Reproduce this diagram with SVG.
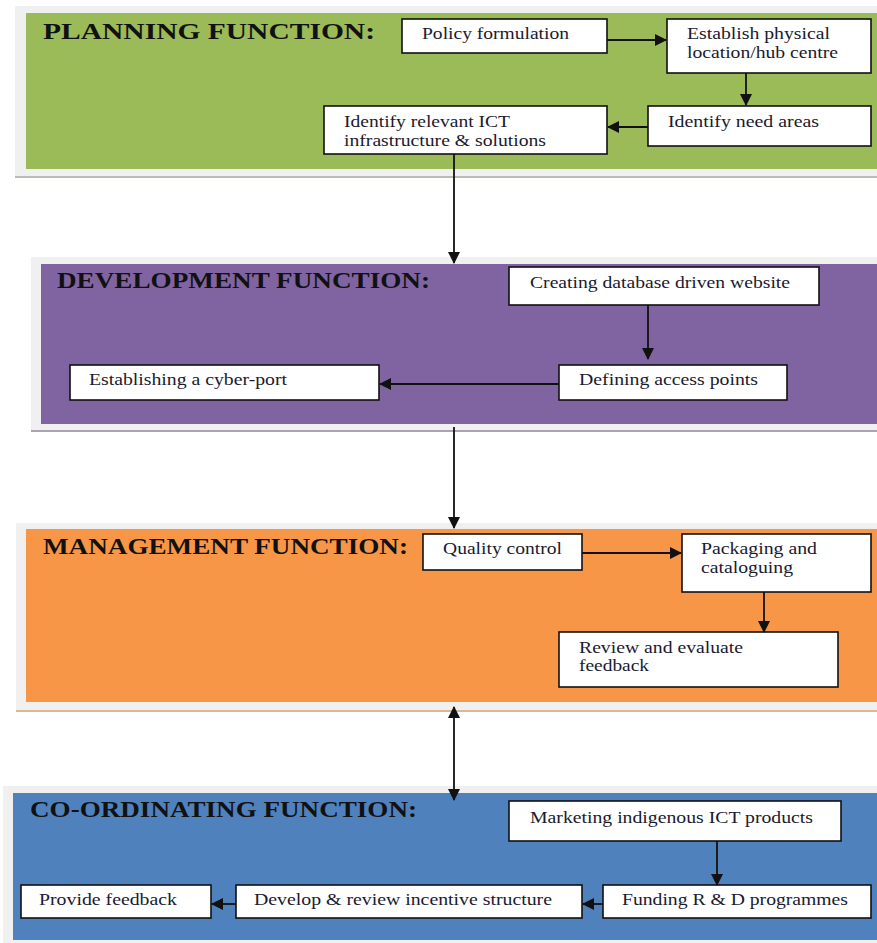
<svg xmlns="http://www.w3.org/2000/svg" width="877" height="943" viewBox="0 0 877 943">
<defs>
<style>
.frame{fill:#f0f0f0}
.box{fill:#fff;stroke:#111;stroke-width:1.6}
.title{font-family:"Liberation Serif","Times New Roman",serif;font-weight:bold;font-size:23px;fill:#111}
.t{font-family:"Liberation Serif","Times New Roman",serif;font-size:16px;fill:#1a1a2e}
.c{stroke:#111;stroke-width:1.8;fill:none}
</style>
<marker id="ah" viewBox="0 0 12 12" refX="11" refY="6" markerWidth="12" markerHeight="12" markerUnits="userSpaceOnUse" orient="auto-start-reverse">
<path d="M0,0 L12,6 L0,12 z" fill="#111"/>
</marker>
</defs>
<rect width="877" height="943" fill="#fff"/>

<g id="planning">
<rect class="frame" x="15" y="6" width="862" height="172"/>
<rect x="15" y="176" width="862" height="2" fill="#b8bfae"/>
<rect x="26" y="13" width="851" height="156" fill="#9bbb59"/>
<text class="title" x="43" y="39" textLength="332" lengthAdjust="spacingAndGlyphs">PLANNING FUNCTION:</text>
</g>
<g id="policy">
<rect class="box" x="402" y="19" width="205" height="34"/>
<text class="t" x="422" y="39" textLength="147" lengthAdjust="spacingAndGlyphs">Policy formulation</text>
</g>
<g id="establish">
<rect class="box" x="667" y="19" width="204" height="54"/>
<text class="t" x="687" y="39" textLength="143" lengthAdjust="spacingAndGlyphs">Establish physical</text>
<text class="t" x="687" y="58" textLength="151" lengthAdjust="spacingAndGlyphs">location/hub centre</text>
</g>
<g id="need">
<rect class="box" x="648" y="106" width="223" height="40"/>
<text class="t" x="668" y="127" textLength="151" lengthAdjust="spacingAndGlyphs">Identify need areas</text>
</g>
<g id="ict">
<rect class="box" x="324" y="106" width="283" height="48"/>
<text class="t" x="344" y="127" textLength="166" lengthAdjust="spacingAndGlyphs">Identify relevant ICT</text>
<text class="t" x="344" y="146" textLength="202" lengthAdjust="spacingAndGlyphs">infrastructure &amp; solutions</text>
</g>

<g id="development">
<rect class="frame" x="31" y="257" width="846" height="175"/>
<rect x="31" y="430" width="846" height="2" fill="#a9a3b3"/>
<rect x="41" y="264" width="836" height="160" fill="#8064a2"/>
<text class="title" x="57" y="288" textLength="373" lengthAdjust="spacingAndGlyphs">DEVELOPMENT FUNCTION:</text>
</g>
<g id="website">
<rect class="box" x="509" y="267" width="310" height="38"/>
<text class="t" x="530" y="288" textLength="260" lengthAdjust="spacingAndGlyphs">Creating database driven website</text>
</g>
<g id="access">
<rect class="box" x="559" y="365" width="228" height="35"/>
<text class="t" x="579" y="385" textLength="179" lengthAdjust="spacingAndGlyphs">Defining access points</text>
</g>
<g id="cyberport">
<rect class="box" x="70" y="365" width="309" height="35"/>
<text class="t" x="89" y="385" textLength="198" lengthAdjust="spacingAndGlyphs">Establishing a cyber-port</text>
</g>

<g id="management">
<rect class="frame" x="16" y="523" width="861" height="189"/>
<rect x="16" y="710" width="861" height="2" fill="#d9b898"/>
<rect x="26" y="529" width="851" height="173" fill="#f79646"/>
<text class="title" x="43" y="554" textLength="365" lengthAdjust="spacingAndGlyphs">MANAGEMENT FUNCTION:</text>
</g>
<g id="quality">
<rect class="box" x="423" y="534" width="159" height="36"/>
<text class="t" x="443" y="554" textLength="119" lengthAdjust="spacingAndGlyphs">Quality control</text>
</g>
<g id="packaging">
<rect class="box" x="682" y="534" width="189" height="58"/>
<text class="t" x="701" y="554" textLength="116" lengthAdjust="spacingAndGlyphs">Packaging and</text>
<text class="t" x="701" y="573" textLength="92" lengthAdjust="spacingAndGlyphs">cataloguing</text>
</g>
<g id="review">
<rect class="box" x="559" y="632" width="279" height="55"/>
<text class="t" x="579" y="653" textLength="164" lengthAdjust="spacingAndGlyphs">Review and evaluate</text>
<text class="t" x="579" y="671" textLength="70" lengthAdjust="spacingAndGlyphs">feedback</text>
</g>

<g id="coordinating">
<rect class="frame" x="3" y="786" width="874" height="157"/>
<rect x="13" y="793" width="864" height="147" fill="#4f81bd"/>
<text class="title" x="30" y="817" textLength="387" lengthAdjust="spacingAndGlyphs">CO-ORDINATING FUNCTION:</text>
</g>
<g id="marketing">
<rect class="box" x="509" y="801" width="332" height="40"/>
<text class="t" x="530" y="823" textLength="283" lengthAdjust="spacingAndGlyphs">Marketing indigenous ICT products</text>
</g>
<g id="funding">
<rect class="box" x="603" y="885" width="268" height="33"/>
<text class="t" x="622" y="905" textLength="226" lengthAdjust="spacingAndGlyphs">Funding R &amp; D programmes</text>
</g>
<g id="incentive">
<rect class="box" x="236" y="885" width="346" height="33"/>
<text class="t" x="254" y="905" textLength="298" lengthAdjust="spacingAndGlyphs">Develop &amp; review incentive structure</text>
</g>
<g id="provide">
<rect class="box" x="21" y="885" width="190" height="33"/>
<text class="t" x="39" y="905" textLength="138" lengthAdjust="spacingAndGlyphs">Provide feedback</text>
</g>

<g id="connectors">
<line class="c" x1="607" y1="40" x2="666" y2="40" marker-end="url(#ah)"/>
<line class="c" x1="746" y1="73" x2="746" y2="105" marker-end="url(#ah)"/>
<line class="c" x1="648" y1="127" x2="608" y2="127" marker-end="url(#ah)"/>
<line class="c" x1="454" y1="154" x2="454" y2="263" marker-end="url(#ah)"/>
<line class="c" x1="648" y1="305" x2="648" y2="359" marker-end="url(#ah)"/>
<line class="c" x1="559" y1="384" x2="380" y2="384" marker-end="url(#ah)"/>
<line class="c" x1="454" y1="427" x2="454" y2="528" marker-end="url(#ah)"/>
<line class="c" x1="582" y1="553" x2="681" y2="553" marker-end="url(#ah)"/>
<line class="c" x1="764" y1="592" x2="764" y2="632" marker-end="url(#ah)"/>
<line class="c" x1="454" y1="707" x2="454" y2="800" marker-start="url(#ah)" marker-end="url(#ah)"/>
<line class="c" x1="717" y1="841" x2="717" y2="885" marker-end="url(#ah)"/>
<line class="c" x1="603" y1="904" x2="583" y2="904" marker-end="url(#ah)"/>
<line class="c" x1="236" y1="904" x2="212" y2="904" marker-end="url(#ah)"/>
</g>
</svg>
